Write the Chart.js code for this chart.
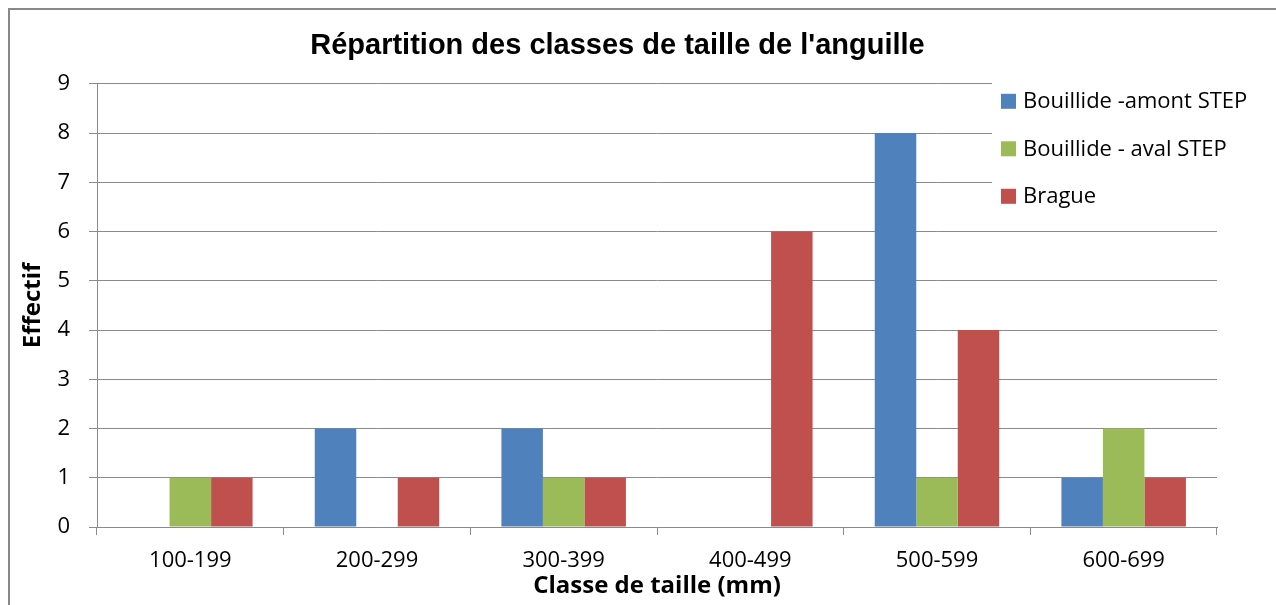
<!DOCTYPE html>
<html>
<head>
<meta charset="utf-8">
<script src="https://cdn.jsdelivr.net/npm/chart.js@4.4.0/dist/chart.umd.min.js"></script>
<style>
  html, body { margin: 0; padding: 0; background: #fff; }
  #wrap { position: relative; width: 1276px; height: 605px; }
</style>
</head>
<body>
<div id="wrap"><canvas id="c" width="1276" height="605"></canvas></div>
<script>
// données
const categories = ['100-199', '200-299', '300-399', '400-499', '500-599', '600-699'];
const amont = [0, 2, 2, 0, 8, 1];
const aval = [1, 0, 1, 0, 1, 2];
const brague = [1, 1, 1, 6, 4, 1];
const seriesNames = ['Bouillide -amont STEP', 'Bouillide - aval STEP', 'Brague'];
const yTicks = [0, 1, 2, 3, 4, 5, 6, 7, 8, 9];

const gridColor = '#8a8a8a';

// légende dessinée à la main, dans la zone du graphique
const boxLegend = {
  id: 'boxLegend',
  afterDatasetsDraw(chart) {
    const ctx = chart.ctx;
    const area = chart.chartArea;
    const x0 = area.right - 225;
    ctx.save();
    ctx.fillStyle = '#fff';
    ctx.fillRect(x0, area.top - 2, chart.width - x0, 130);
    ctx.font = '22px "Open Sans"';
    ctx.textBaseline = 'middle';
    chart.data.datasets.forEach((ds, i) => {
      const cy = area.top + 18 + i * 47.5;
      ctx.fillStyle = ds.backgroundColor;
      ctx.fillRect(x0 + 9, cy - 8, 15, 15);
      ctx.fillStyle = '#000';
      ctx.fillText(ds.label, x0 + 31, cy);
    });
    ctx.restore();
  },
  beforeDraw(chart) {
    const ctx = chart.ctx;
    ctx.save();
    ctx.strokeStyle = '#888';
    ctx.lineWidth = 2;
    ctx.strokeRect(9, 9, chart.width + 10, chart.height + 10);
    ctx.restore();
  }
};

new Chart(document.getElementById('c'), {
  type: 'bar',
  data: {
    labels: categories,
    datasets: [
      { label: seriesNames[0], data: amont, backgroundColor: '#4F81BD' },
      { label: seriesNames[1], data: aval, backgroundColor: '#9BBB59' },
      { label: seriesNames[2], data: brague, backgroundColor: '#C0504D' }
    ]
  },
  options: {
    responsive: false,
    animation: false,
    layout: { padding: { left: 18, right: 59, top: 0, bottom: 0 } },
    datasets: {
      bar: { categoryPercentage: 0.667, barPercentage: 1.0, borderWidth: 0 }
    },
    plugins: {
      legend: { display: false },
      tooltip: { enabled: false },
      title: {
        display: true,
        text: "Répartition des classes de taille de l'anguille",
        color: '#000',
        font: { family: 'Liberation Sans', size: 29, weight: 'bold', lineHeight: 1.2 },
        padding: { top: 29, bottom: 20 }
      }
    },
    scales: {
      x: {
        afterFit(scale) { scale.height = 78; },
        grid: { drawOnChartArea: false, drawTicks: true, tickLength: 8, color: gridColor, offset: true },
        border: { color: gridColor, width: 1 },
        ticks: { color: '#000', font: { family: 'Open Sans', size: 22 }, padding: 13, maxRotation: 0 },
        title: {
          display: true,
          text: 'Classe de taille (mm)',
          color: '#000',
          font: { family: 'Open Sans', size: 24, weight: 'bold' },
          padding: { top: 0, bottom: 4 }
        }
      },
      y: {
        min: 0,
        max: 9,
        afterFit(scale) { scale.width = 79; },
        afterBuildTicks(scale) {
          scale.ticks = yTicks.map(v => ({ value: v }));
        },
        grid: { color: gridColor, tickLength: 8 },
        border: { color: gridColor, width: 1 },
        ticks: { color: '#000', font: { family: 'Open Sans', size: 22 }, padding: 19 },
        title: {
          display: true,
          text: 'Effectif',
          color: '#000',
          font: { family: 'Open Sans', size: 24, weight: 'bold' },
          padding: { top: 1, bottom: 0 }
        }
      }
    }
  },
  plugins: [boxLegend]
});
</script>
</body>
</html>
